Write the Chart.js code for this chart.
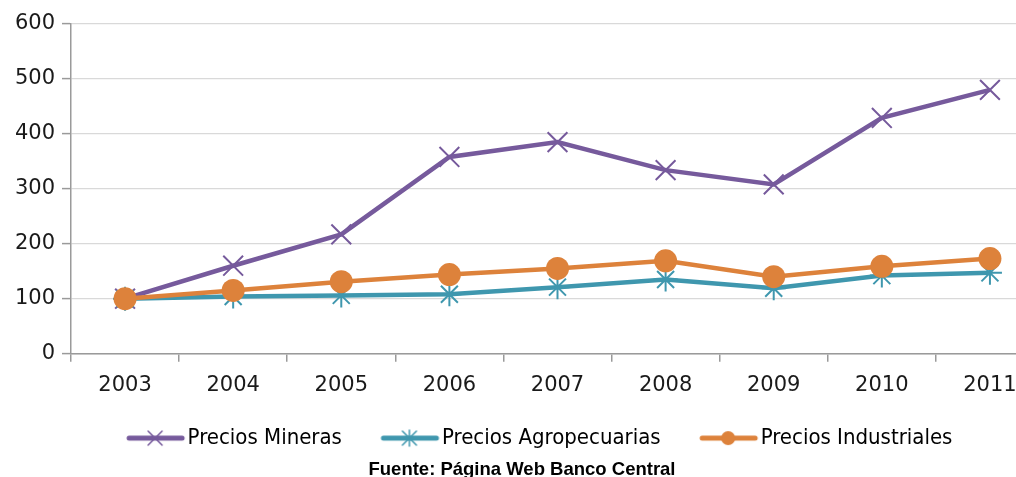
<!DOCTYPE html>
<html lang="es">
<head>
    <meta charset=utf-8>
    <title>Precios</title>
    <script src="https://cdn.jsdelivr.net/npm/chart.js@4.4.0/dist/chart.umd.min.js"></script>
    <style>
        html, body { margin: 0; padding: 0; background: #fff; overflow: hidden; }
        #wrap { width: 1046px; height: 477px; }
    </style>
</head>
<body>
<div id="wrap"><canvas id="myChart" width="1046" height="477"></canvas></div>
<script>
    var years = ['2003', '2004', '2005', '2006', '2007', '2008', '2009', '2010', '2011'];
    var mineras = [100, 160, 217, 358, 385, 334, 308, 429, 480];
    var agropecuarias = [100, 104, 106, 108, 121, 135, 119, 142, 147];
    var industriales = [100, 115, 131, 144, 155, 169, 140, 159, 173];
    var yTicks = [0, 100, 200, 300, 400, 500, 600];

    var PURPLE = '#765A9C';
    var TEAL = '#3F97AE';
    var ORANGE = '#DD823B';
    var tickFont = {family: '"DejaVu Sans", sans-serif', size: 21};

    // legend swatch: line with the marker in the middle (Excel style)
    function swatch(color, marker) {
        var c = document.createElement('canvas');
        c.width = 110;
        c.height = 24;
        var g = c.getContext('2d');
        g.strokeStyle = color;
        g.fillStyle = color;
        g.lineCap = 'round';
        g.lineWidth = 5;
        g.beginPath();
        g.moveTo(50, 12);
        g.lineTo(103, 12);
        g.stroke();
        var cx = 76, r = 7;
        g.lineWidth = 1.5;
        if (marker === 'circle') {
            g.beginPath();
            g.arc(cx, 12, 7, 0, Math.PI * 2);
            g.fill();
        } else {
            g.beginPath();
            g.moveTo(cx - r, 12 - r); g.lineTo(cx + r, 12 + r);
            g.moveTo(cx - r, 12 + r); g.lineTo(cx + r, 12 - r);
            if (marker === 'star') {
                g.moveTo(cx, 12 - r - 1); g.lineTo(cx, 12 + r + 1);
            }
            g.stroke();
        }
        return c;
    }

    var ctx = document.getElementById('myChart').getContext('2d');
    var chart = new Chart(ctx, {
        type: 'line',
        data: {
            labels: years,
            datasets: [
                {
                    label: 'Precios Mineras',
                    data: mineras,
                    borderColor: PURPLE,
                    backgroundColor: PURPLE,
                    borderWidth: 4.5,
                    pointStyle: 'crossRot',
                    pointRadius: 14,
                    pointBorderWidth: 2,
                    pointBorderColor: PURPLE,
                    tension: 0,
                    order: 3,
                    legendMarker: 'cross'
                },
                {
                    label: 'Precios Agropecuarias',
                    data: agropecuarias,
                    borderColor: TEAL,
                    backgroundColor: TEAL,
                    borderWidth: 4.5,
                    pointStyle: 'star',
                    pointRadius: 12,
                    pointBorderWidth: 2,
                    pointBorderColor: TEAL,
                    tension: 0,
                    order: 2,
                    legendMarker: 'star'
                },
                {
                    label: 'Precios Industriales',
                    data: industriales,
                    borderColor: ORANGE,
                    backgroundColor: ORANGE,
                    borderWidth: 4.5,
                    pointStyle: 'circle',
                    pointRadius: 11.5,
                    pointBorderWidth: 0,
                    pointBackgroundColor: ORANGE,
                    tension: 0,
                    order: 1,
                    legendMarker: 'circle'
                }
            ]
        },
        options: {
            responsive: false,
            animation: false,
            layout: {autoPadding: false, padding: {top: 24, left: 0, right: 2, bottom: 0}},
            scales: {
                x: {
                    offset: true,
                    border: {color: '#9a9a9a', width: 1.5},
                    grid: {offset: true, drawOnChartArea: false, drawTicks: true, tickLength: 8, color: '#9a9a9a', lineWidth: 1.5},
                    ticks: {font: tickFont, color: '#1a1a1a', padding: 11, maxRotation: 0},
                    afterFit: function (scale) {
                        scale.height = 69.5;
                        scale.paddingLeft = 0;
                        scale.paddingRight = 0;
                    }
                },
                y: {
                    min: 0,
                    max: 600,
                    afterBuildTicks: function (scale) {
                        scale.ticks = yTicks.map(function (v) { return {value: v}; });
                    },
                    border: {color: '#9a9a9a', width: 1.5},
                    grid: {color: '#d9d9d9', lineWidth: 1.2, tickLength: 9, tickColor: '#9a9a9a', tickWidth: 1.5},
                    ticks: {font: tickFont, color: '#1a1a1a', padding: 7},
                    afterFit: function (scale) { scale.width = 71; }
                }
            },
            plugins: {
                tooltip: {enabled: false},
                legend: {
                    position: 'bottom',
                    labels: {
                        usePointStyle: true,
                        pointStyleWidth: 85,
                        boxHeight: 22,
                        padding: 4,
                        color: '#000',
                        font: {family: '"Liberation Sans Narrow", "DejaVu Sans Condensed", "Liberation Sans", sans-serif', size: 22},
                        generateLabels: function (ch) {
                            return ch.data.datasets.map(function (ds, i) {
                                return {
                                    text: ds.label,
                                    datasetIndex: i,
                                    pointStyle: swatch(ds.borderColor, ds.legendMarker),
                                    fontColor: '#000',
                                    fillStyle: ds.borderColor,
                                    strokeStyle: ds.borderColor,
                                    lineWidth: 0,
                                    hidden: false
                                };
                            });
                        }
                    }
                },
                title: {
                    display: true,
                    position: 'bottom',
                    text: 'Fuente: Página Web Banco Central',
                    color: '#000',
                    font: {family: '"Liberation Sans", sans-serif', size: 18.5, weight: 'bold', lineHeight: 0.75},
                    padding: {top: 4, bottom: 0}
                }
            }
        }
    });
</script>
</body>
</html>
